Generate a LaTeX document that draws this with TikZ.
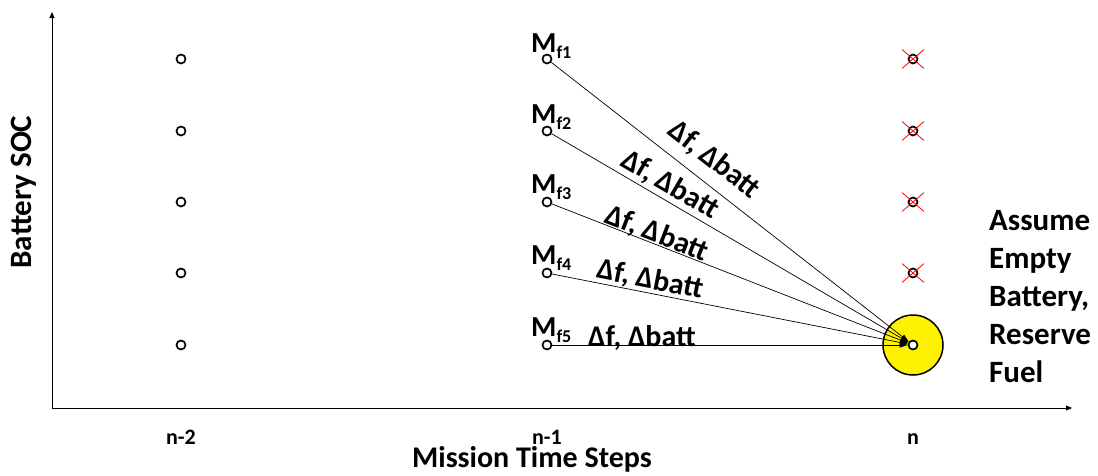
\documentclass[tikz,border=0pt]{standalone}
\usepackage{fontspec}
\setmainfont{Carlito}
\usetikzlibrary{arrows.meta,shapes.misc}
\begin{document}
\begin{tikzpicture}[x=1pt,y=-1pt,
  dot/.style={circle, draw=black, line width=1.7pt, fill=white, minimum size=9pt, inner sep=0pt},
  conn/.style={draw=black, line width=0.7pt, -{Triangle[length=8pt,width=5pt]}},
  axis/.style={draw=black, line width=0.9pt, -{Triangle[length=6pt,width=5pt]}},
  lab/.style={font=\fontsize{30}{30}\selectfont\bfseries, inner sep=0pt},
  mlab/.style={font=\fontsize{29}{29}\selectfont\bfseries, inner sep=0pt, anchor=base west},
  tick/.style={font=\fontsize{22}{22}\selectfont\bfseries, inner sep=0pt, anchor=base},
  xmark/.style={cross out, draw=red, line width=0.8pt, minimum width=21pt, minimum height=18pt, inner sep=0pt},
  res/.style={circle, draw=black, fill=yellow, line width=1.5pt, minimum size=60pt, inner sep=0pt}
]
\useasboundingbox (0,0) rectangle (1098,475);
\newcommand{\sbs}[1]{\raisebox{-6pt}{\fontsize{18}{18}\selectfont #1}}

% axes
\coordinate (O) at (52,408);
\coordinate (ytop) at (52,12);
\coordinate (xend) at (1072,408);
\draw[axis] (O) -- (ytop);
\draw[axis] (O) -- (xend);
\node[lab, rotate=90, font=\fontsize{31}{31}\selectfont\bfseries] (ylab) at (24,192) {Battery SOC};

% reserve circle
\node[res] (reserve) at (913,345) {};

% dots
\foreach \r/\y in {1/59,2/131,3/202,4/273,5/345}{
  \node[dot] (a\r) at (181,\y) {};
  \node[dot] (b\r) at (547,\y) {};
  \node[dot] (c\r) at (913,\y) {};
}
\foreach \r in {1,2,3,4}{
  \node[xmark] (x\r) at (c\r) {};
}

% M labels
\node[mlab] (m1) at (531,52) {M\sbs{f1}};
\node[mlab] (m2) at (531,123) {M\sbs{f2}};
\node[mlab] (m3) at (531,193) {M\sbs{f3}};
\node[mlab] (m4) at (531,264) {M\sbs{f4}};
\node[mlab] (m5) at (531,336) {M\sbs{f5}};

% connectors
\foreach \r in {1,2,3,4,5}{
  \draw[conn] (b\r) -- (c5);
}

% connector labels
\node[lab, rotate=-38] (l1) at (714,160) {Δf, Δbatt};
\node[lab, rotate=-30.3] (l2) at (670,185) {Δf, Δbatt};
\node[lab, rotate=-21.3] (l3) at (657,234) {Δf, Δbatt};
\node[lab, rotate=-11.1] (l4) at (650,280) {Δf, Δbatt};
\node[lab] (l5) at (642,338) {Δf, Δbatt};

% note
\node[lab, anchor=north west, align=left, font=\fontsize{31}{38}\selectfont\bfseries] (note) at (989,210)
  {Assume\\Empty\\Battery,\\Reserve\\Fuel};

% x ticks
\node[tick] (t1) at (181,444) {n-2};
\node[tick] (t2) at (547,444) {n-1};
\node[tick] (t3) at (913,444) {n};
\node[lab, anchor=base, font=\fontsize{30}{30}\selectfont\bfseries] (xlab) at (532,467) {Mission Time Steps};
\end{tikzpicture}
\end{document}
